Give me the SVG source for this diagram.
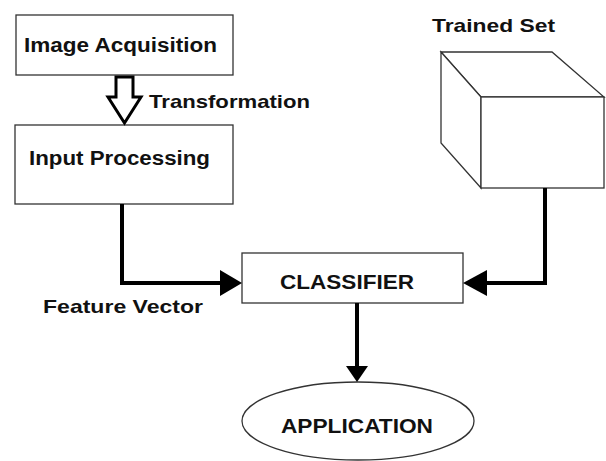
<svg xmlns="http://www.w3.org/2000/svg" width="606" height="461" viewBox="0 0 606 461">
<style>
.box{fill:#fff;stroke:#333;stroke-width:1.3}
.t{font-family:"Liberation Sans",Arial,sans-serif;font-weight:bold;fill:#111}
.conn{fill:none;stroke:#000;stroke-width:4}
.head{fill:#000}
</style>
<rect width="606" height="461" fill="#fff"/>
<g id="image-acquisition">
<rect class="box" x="16" y="15" width="217" height="60"/>
<text class="t" x="24" y="52" font-size="20" textLength="193" lengthAdjust="spacingAndGlyphs">Image Acquisition</text>
</g>
<g id="input-processing">
<rect class="box" x="15" y="125" width="218" height="79"/>
<text class="t" x="29" y="165" font-size="20" textLength="181" lengthAdjust="spacingAndGlyphs">Input Processing</text>
</g>
<g id="trained-set">
<path class="box" d="M441,52 L552,52 L604,97 L481,97 Z"/>
<path class="box" d="M441,52 L481,97 L481,188 L441,143 Z"/>
<rect class="box" x="481" y="97" width="123" height="91"/>
<text class="t" x="432" y="32" font-size="19" textLength="123" lengthAdjust="spacingAndGlyphs">Trained Set</text>
</g>
<g id="classifier">
<rect class="box" x="242" y="253" width="221" height="50"/>
<text class="t" x="280" y="289" font-size="21" textLength="134" lengthAdjust="spacingAndGlyphs">CLASSIFIER</text>
</g>
<g id="application">
<ellipse class="box" cx="358" cy="421" rx="116" ry="39"/>
<text class="t" x="281" y="433" font-size="21" textLength="152" lengthAdjust="spacingAndGlyphs">APPLICATION</text>
</g>
<g id="connectors">
<path d="M116,77 L133,77 L133,97 L141,97 L124.5,123 L108,97 L116,97 Z" fill="#fff" stroke="#000" stroke-width="3" stroke-linejoin="miter"/>
<text class="t" x="149" y="108" font-size="19" textLength="161" lengthAdjust="spacingAndGlyphs">Transformation</text>
<path class="conn" d="M122,204 L122,283 L222,283"/>
<path class="head" d="M220,270 L242,283 L220,296 Z"/>
<text class="t" x="43" y="313" font-size="19" textLength="160" lengthAdjust="spacingAndGlyphs">Feature Vector</text>
<path class="conn" d="M545,188 L545,283 L485,283"/>
<path class="head" d="M487,270 L463,283 L487,296 Z"/>
<path class="conn" d="M357,303 L357,368"/>
<path class="head" d="M346,366 L368,366 L357,382 Z"/>
</g>
</svg>
